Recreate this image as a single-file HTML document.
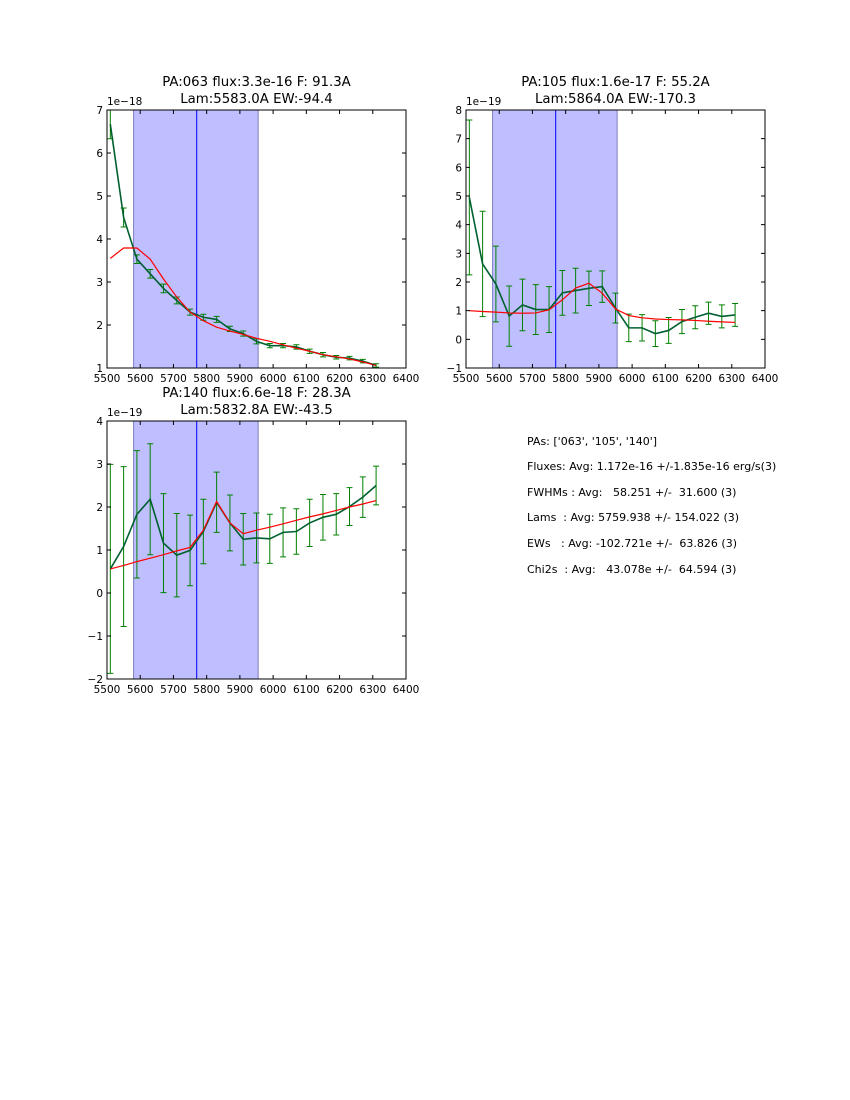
<!DOCTYPE html>
<html><head><meta charset="utf-8"><style>
body{margin:0;background:#fff;}
svg{display:block;font-family:"DejaVu Sans","Liberation Sans",sans-serif;}
</style></head><body>
<svg id="fig" width="850" height="1100" xmlns="http://www.w3.org/2000/svg">
<rect width="850" height="1100" fill="#fff"/>
<g id="stats" font-size="11" fill="#000">
<text x="527" y="445" xml:space="preserve">PAs: ['063', '105', '140']</text>
<text x="527" y="470" xml:space="preserve">Fluxes: Avg: 1.172e-16 +/-1.835e-16 erg/s(3)</text>
<text x="527" y="496" xml:space="preserve">FWHMs : Avg:   58.251 +/-  31.600 (3)</text>
<text x="527" y="521" xml:space="preserve">Lams  : Avg: 5759.938 +/- 154.022 (3)</text>
<text x="527" y="547" xml:space="preserve">EWs   : Avg: -102.721e +/-  63.826 (3)</text>
<text x="527" y="573" xml:space="preserve">Chi2s  : Avg:   43.078e +/-  64.594 (3)</text>
</g>
</svg>
<script>
const wavelengths=[5510,5550,5590,5630,5670,5710,5750,5790,5830,5870,5910,5950,5990,6030,6070,6110,6150,6190,6230,6270,6310];
const xTicks=[5500,5600,5700,5800,5900,6000,6100,6200,6300,6400];
const flux1=[6.67,4.5,3.53,3.19,2.85,2.57,2.30,2.18,2.13,1.91,1.80,1.62,1.52,1.52,1.49,1.39,1.31,1.25,1.23,1.16,1.06];
const err1=[0.34,0.22,0.1,0.1,0.1,0.08,0.07,0.07,0.07,0.06,0.06,0.06,0.05,0.05,0.05,0.05,0.05,0.04,0.04,0.04,0.04];
const model1=[3.55,3.79,3.79,3.53,3.07,2.65,2.30,2.10,1.95,1.86,1.78,1.69,1.62,1.54,1.46,1.39,1.31,1.26,1.21,1.14,1.06];
const flux2=[4.95,2.63,1.93,0.81,1.20,1.04,1.04,1.62,1.70,1.78,1.84,1.09,0.40,0.40,0.20,0.31,0.62,0.77,0.91,0.80,0.85];
const err2=[2.7,1.84,1.32,1.05,0.9,0.87,0.8,0.78,0.78,0.6,0.55,0.52,0.48,0.46,0.45,0.45,0.42,0.4,0.39,0.4,0.4];
const model2=[1.0,0.97,0.95,0.92,0.91,0.92,1.03,1.38,1.79,1.96,1.61,1.06,0.83,0.75,0.71,0.69,0.68,0.66,0.63,0.61,0.59];
const flux3=[0.56,1.08,1.83,2.18,1.16,0.88,0.99,1.43,2.11,1.63,1.25,1.28,1.26,1.41,1.43,1.63,1.76,1.83,2.01,2.23,2.50];
const err3=[2.43,1.86,1.48,1.29,1.15,0.97,0.82,0.75,0.7,0.65,0.6,0.58,0.57,0.57,0.53,0.55,0.53,0.48,0.44,0.47,0.45];
const model3=[0.56,0.64,0.73,0.81,0.89,0.98,1.06,1.46,2.13,1.63,1.38,1.46,1.53,1.61,1.69,1.77,1.84,1.92,2.00,2.07,2.15];
const yTicks1=[1,2,3,4,5,6,7];
const yTicks2=[-1,0,1,2,3,4,5,6,7,8];
const yTicks3=[-2,-1,0,1,2,3,4];
const NS='http://www.w3.org/2000/svg';
const fig=document.getElementById('fig');
function mk(tag,attrs,parent){const e=document.createElementNS(NS,tag);for(const k in attrs)e.setAttribute(k,attrs[k]);(parent||fig).appendChild(e);return e;}
const panels=[
 {x0:107,y0:110,w:299,h:258,ymin:1,ymax:7,yt:yTicks1,f:flux1,e:err1,m:model1,exp:'1e\u221218',t1:'PA:063 flux:3.3e-16 F: 91.3A',t2:'Lam:5583.0A EW:-94.4',id:'pa063'},
 {x0:466,y0:110,w:299,h:258,ymin:-1,ymax:8,yt:yTicks2,f:flux2,e:err2,m:model2,exp:'1e\u221219',t1:'PA:105 flux:1.6e-17 F: 55.2A',t2:'Lam:5864.0A EW:-170.3',id:'pa105'},
 {x0:107,y0:421,w:299,h:258,ymin:-2,ymax:4,yt:yTicks3,f:flux3,e:err3,m:model3,exp:'1e\u221219',t1:'PA:140 flux:6.6e-18 F: 28.3A',t2:'Lam:5832.8A EW:-43.5',id:'pa140'}
];
panels.forEach(p=>{
 const g=mk('g',{});
 
 
 const sx=v=>p.x0+(v-5500)/900*p.w;
 const sy=v=>p.y0+p.h-(v-p.ymin)/(p.ymax-p.ymin)*p.h;
 const clip=mk('clipPath',{id:'c'+p.id},g);
 mk('rect',{x:p.x0,y:p.y0,width:p.w,height:p.h},clip);
 const span=mk('rect',{x:sx(5580),y:p.y0,width:sx(5955)-sx(5580),height:p.h,fill:'#bfbfff',stroke:'#7f7fbf','stroke-width':1},g);
 
 
 const vl=mk('line',{x1:sx(5770),x2:sx(5770),y1:p.y0,y2:p.y0+p.h,stroke:'#0000ff','stroke-width':1},g);
 
 
 const cg=mk('g',{'clip-path':'url(#c'+p.id+')'},g);
 wavelengths.forEach((w,i)=>{
  const x=sx(w),y1=sy(p.f[i]-p.e[i]),y2=sy(p.f[i]+p.e[i]);
  const eb=mk('path',{d:`M${x},${y1}V${y2}M${x-3},${y1}H${x+3}M${x-3},${y2}H${x+3}`,stroke:'#008000','stroke-width':1,fill:'none'},cg);
  
  
 });
 const dl=mk('polyline',{points:wavelengths.map((w,i)=>sx(w)+','+sy(p.f[i])).join(' '),fill:'none',stroke:'#006030','stroke-width':1.6},cg);
 
 
 const ml=mk('polyline',{points:wavelengths.map((w,i)=>sx(w)+','+sy(p.m[i])).join(' '),fill:'none',stroke:'#ff0000','stroke-width':1.2},cg);
 
 
 const fr=mk('rect',{x:p.x0,y:p.y0,width:p.w,height:p.h,fill:'none',stroke:'#000','stroke-width':1},g);
 
 
 xTicks.forEach(t=>{
  const x=sx(t);
  mk('path',{d:`M${x},${p.y0+p.h}v-4M${x},${p.y0}v4`,stroke:'#000'},g);
  const tx=mk('text',{x:x,y:p.y0+p.h+14,'font-size':10.5,'text-anchor':'middle'},g);
  tx.textContent=t;
  
  
 });
 p.yt.forEach(t=>{
  const y=sy(t);
  mk('path',{d:`M${p.x0},${y}h4M${p.x0+p.w},${y}h-4`,stroke:'#000'},g);
  const tx=mk('text',{x:p.x0-4,y:y+4,'font-size':10.5,'text-anchor':'end'},g);
  tx.textContent=String(t).replace('-','\u2212');
  
  
 });
 const ex=mk('text',{x:p.x0,y:p.y0-5,'font-size':10.5},g);
 ex.textContent=p.exp;
 
 
 const t1=mk('text',{x:p.x0+p.w/2,y:p.y0-24,'font-size':13.3,'text-anchor':'middle'},g);
 t1.textContent=p.t1;
 
 
 const t2=mk('text',{x:p.x0+p.w/2,y:p.y0-7,'font-size':13.3,'text-anchor':'middle'},g);
 t2.textContent=p.t2;
 
 
});
</script>
</body></html>
